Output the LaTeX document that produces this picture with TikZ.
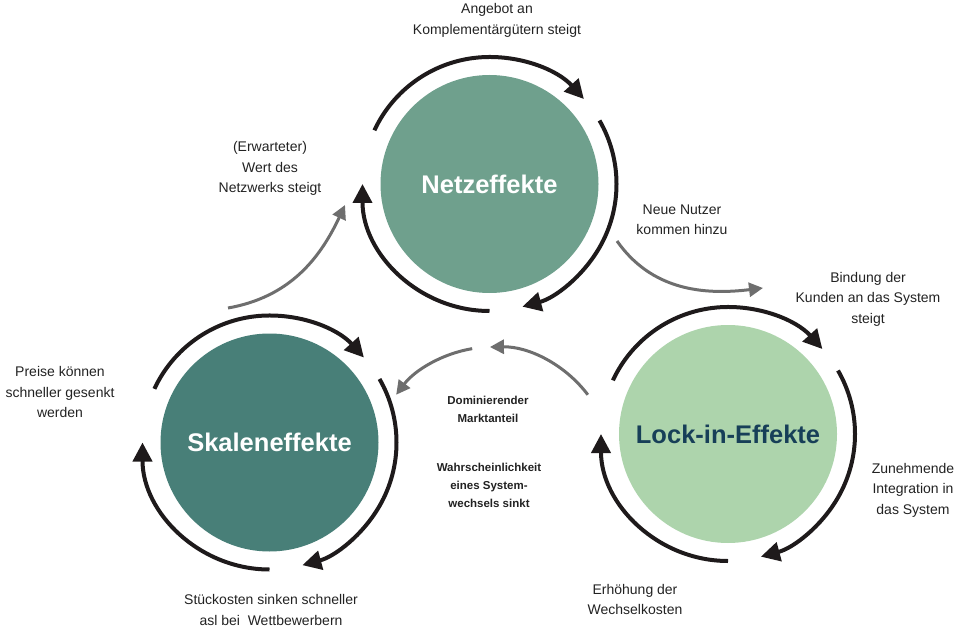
\documentclass[tikz,border=0pt]{standalone}
\usepackage{fontspec}
\setmainfont{Liberation Sans}
\usetikzlibrary{arrows.meta}
\definecolor{netz}{HTML}{6FA08D}
\definecolor{skala}{HTML}{487F78}
\definecolor{lockin}{HTML}{ADD4AC}
\definecolor{lockintext}{HTML}{173F58}
\definecolor{arcblack}{HTML}{1E1A1B}
\definecolor{flowgray}{HTML}{6E6E6E}
\definecolor{lblcol}{HTML}{222222}
\begin{document}
\begin{tikzpicture}[x=1pt,y=1pt,
  cyc/.style={line width=4pt, draw=arcblack, -{Triangle[length=19pt,width=19pt]}},
  flow/.style={line width=3pt, draw=flowgray, -{Triangle[length=14pt,width=14pt]}},
  hub/.style={circle, minimum size=218pt, inner sep=0pt,
    font=\fontsize{25.5}{30}\selectfont\bfseries},
  lbl/.style={align=center, text=lblcol, font=\fontsize{14}{20.5}\selectfont},
  mid/.style={align=center, text=lblcol, font=\fontsize{11.5}{18}\selectfont\bfseries}]
\useasboundingbox (0,0) rectangle (963,630);

% the three effect circles
\node[hub, fill=netz, text=white] (N) at (489.5,446) {Netzeffekte};
\node[hub, fill=skala, text=white] (S) at (269.5,187.5) {Skaleneffekte};
\node[hub, fill=lockin, text=lockintext] (L) at (728,196) {Lock-in-Effekte};

% clockwise feedback arcs round each circle
\foreach \c in {N,S,L} {
  \draw[cyc] (\c.center) ++(155:127) arc[start angle=155, end angle=42, radius=127];
  \draw[cyc] (\c.center) ++(30:127) arc[start angle=30, end angle=-75, radius=127];
  \draw[cyc] (\c.center) ++(-90:127) arc[start angle=-90, end angle=-180, radius=127];
}

% grey links between the loops
\coordinate (sOut) at (228,322);
\coordinate (nIn) at (345,425);
\coordinate (nOut) at (617,389);
\coordinate (lIn) at (763,342);
\coordinate (mc) at (492,163);
\draw[flow] (sOut) to[out=10,in=-115] (nIn);
\draw[flow] (nOut) to[out=-55,in=187] (lIn);
\draw[flow] (mc) ++(37:120) arc[start angle=37, end angle=91, radius=120];
\draw[flow] (mc) ++(99.5:120) arc[start angle=99.5, end angle=143, radius=120];

% labels
\node[lbl] (t1) at (497,609.5) {Angebot an\\Komplementärgütern steigt};
\node[lbl] (t2) at (270,461.5) {(Erwarteter)\\Wert des\\Netzwerks steigt};
\node[lbl] (t3) at (682,410) {Neue Nutzer\\kommen hinzu};
\node[lbl] (t4) at (868,331) {Bindung der\\Kunden an das System\\steigt};
\node[lbl] (t5) at (60,238) {Preise können\\schneller gesenkt\\werden};
\node[lbl] (t6) at (913,140) {Zunehmende\\Integration in\\das System};
\node[lbl] (t7) at (635,30.5) {Erhöhung der\\Wechselkosten};
\node[lbl] (t8) at (271,20) {Stückosten sinken schneller\\asl bei\ \ Wettbewerbern};
\node[mid] (m1) at (488,221) {Dominierender\\Marktanteil};
\node[mid] (m2) at (489,145) {Wahrscheinlichkeit\\eines System-\\wechsels sinkt};
\end{tikzpicture}
\end{document}
